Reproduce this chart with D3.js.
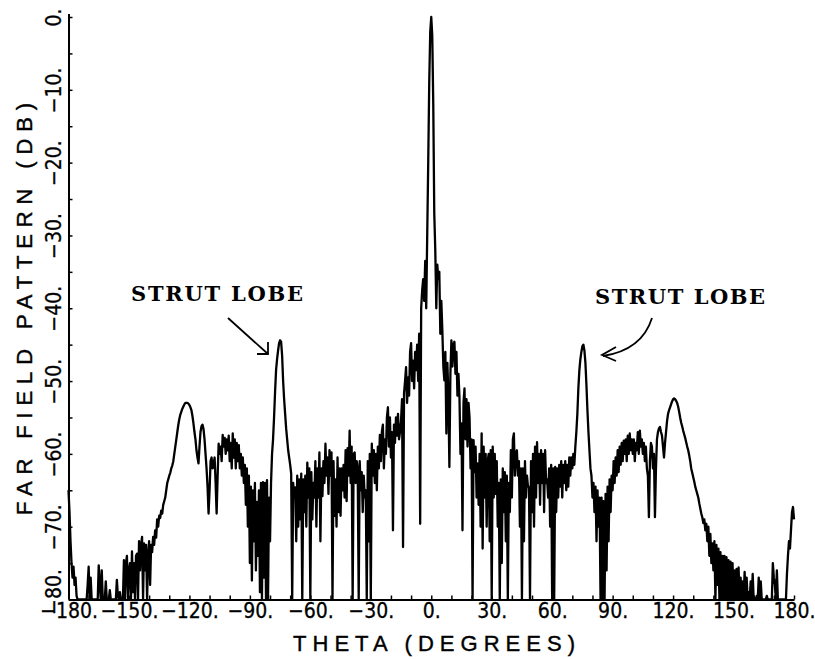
<!DOCTYPE html>
<html>
<head>
<meta charset="utf-8">
<script src="https://cdn.jsdelivr.net/npm/d3@7"></script>
<style>
  body { margin: 0; background: #fff; }
  svg { display: block; }
  .tick-label { font-family: "Liberation Sans Narrow", "DejaVu Sans Condensed", "Liberation Sans", sans-serif; font-size: 21px; fill: #000; stroke: #000; stroke-width: 0.3px; }
  .axis-title { font-family: "Liberation Sans", "DejaVu Sans", sans-serif; font-size: 22px; fill: #000; stroke: #000; stroke-width: 0.4px; }
  .note { font-family: "DejaVu Serif", "Liberation Serif", serif; font-weight: bold; font-size: 21px; fill: #000; }
</style>
</head>
<body>
<svg id="chart"></svg>
<script>
const thetaStart = -180
const thetaStep = 0.5

const dbM180 = [
  -65, -68, -72, -75, -77, -75.5, -78, -77, -79.5, -80,
  -80, -80, -80, -80, -80, -80, -80, -80, -80, -78,
  -75.5, -80, -77, -80, -80, -80, -80, -80, -80, -80,
  -75.3, -78, -80, -76, -80, -80, -80, -77.5, -80, -80,
  -80, -78.7, -80, -80, -80, -80, -80, -80, -77.3, -79.5,
  -80, -79, -80, -80, -80, -74.6, -80, -75, -74, -80
]
const dbM150 = [
  -76, -75, -80, -73.4, -79, -75, -80, -74, -73.7, -80,
  -72, -76, -72.5, -71.4, -80, -72.3, -76, -72.5, -80, -74,
  -72, -78, -72.5, -73.5, -71.4, -72.5, -70.5, -71.5, -69, -70,
  -68.5, -68.8, -67.8, -68.2, -67, -66.5, -66, -65, -64, -63.5,
  -63, -62.6, -62, -61.6, -61, -60, -59, -58, -57, -56,
  -55.2, -54.6, -54.2, -53.8, -53.5, -53.2, -53, -53, -53, -53.1
]
const dbM120 = [
  -53.3, -53.6, -54, -54.8, -55.8, -57, -58, -59.5, -60.5, -61.3,
  -59, -57, -56.2, -56, -56.6, -58, -60, -62, -64.5, -68.2,
  -65, -61, -60.5, -62, -61.5, -60.5, -64, -68.2, -63, -58.6,
  -60, -59, -61, -57.4, -59, -57.8, -60, -58, -59.5, -57.5,
  -61, -58.5, -62, -57.2, -60.5, -58, -62, -58.5, -61, -58.8,
  -62, -60, -63, -60.5, -64, -61.5, -67, -62, -70, -63
]
const dbM90 = [
  -75, -64.5, -77.4, -65, -72, -64, -76, -66.6, -74, -65,
  -79, -64, -80, -63.9, -77, -64, -80, -63.6, -80, -66,
  -72, -64, -60, -58, -55, -51.5, -48.5, -47, -45.8, -44.8,
  -44.4, -44.6, -46.5, -50, -52.5, -54.5, -56.5, -58, -59.5, -60.5,
  -61.5, -62.7, -80, -64, -66, -64.6, -72, -63, -70, -63.5,
  -69, -62.7, -80, -63.5, -68, -63, -70, -61.2, -66, -62
]
const dbM60 = [
  -80, -62.5, -69, -64, -66, -61, -70, -62, -66, -59.8,
  -72, -62, -65.8, -61, -64, -58.6, -63, -60.5, -65.5, -59.5,
  -63, -59.8, -80, -61, -68.5, -63.5, -70, -60.5, -68, -62,
  -68.5, -62, -65, -61.5, -66, -59.5, -66.5, -59.2, -63, -56.8,
  -64, -59, -80, -60, -59.8, -64, -61, -62, -80, -61,
  -65, -62.5, -68, -63, -66, -65, -80, -61, -72, -60
]
const dbM30 = [
  -80, -58.6, -63, -59.5, -64, -60, -65, -59, -62, -57.4,
  -61, -57, -56, -62, -58, -60, -55, -53.6, -59, -55,
  -60.5, -57, -70.5, -56, -58.5, -55, -57.5, -54.5, -58, -57,
  -55.5, -52.5, -72.8, -51.7, -50, -48.1, -53, -49.5, -52, -46,
  -44.8, -50, -47.2, -51, -46, -48.5, -45, -50, -43.5, -69.6,
  -40, -37.5, -36, -39, -33.5, -40, -30, -20, -9, -2
]
const db0 = [
  0, -2.5, -12, -27, -32, -40, -34, -36, -35, -43.5,
  -39, -43, -48, -49.9, -46, -57.2, -47.5, -52, -61.8, -49,
  -44.4, -48, -45, -44.6, -49, -46, -52, -49, -52.2, -60,
  -55.8, -70.5, -53, -51, -58, -52.5, -59, -53, -55, -62,
  -58, -80, -58.1, -62.5, -59, -66, -61.3, -67, -60, -70,
  -57.2, -73, -59, -66, -60, -70, -61, -60, -72, -59.5
]
const db30 = [
  -80, -59, -66, -60, -65.5, -61, -70, -64, -80, -63.5,
  -75, -62, -68, -62.5, -72, -63, -80, -64, -68, -59.5,
  -66, -58, -57.2, -63, -60, -59.5, -63, -61, -70, -62,
  -80, -62, -72, -61, -66, -63, -64.5, -64.5, -80, -61,
  -68, -60, -70, -59, -66, -58.4, -64, -60, -67, -59.5,
  -64, -60, -68, -59.5, -64, -63.5, -66, -62, -70, -61.5
]
const db60 = [
  -80, -62, -80, -61.8, -68, -62, -66, -61.5, -64.5, -61,
  -66, -61.5, -64, -61, -65, -61.5, -64.5, -60.5, -63, -60.5,
  -62, -60, -61.5, -59, -57, -54.5, -51, -48.5, -47, -46,
  -45.2, -45, -45.8, -47.5, -50.5, -54, -57, -59.5, -62, -63,
  -66, -64, -68, -64.5, -72, -65, -70, -66, -80, -66,
  -80, -66.5, -80, -65.5, -76, -64.5, -72, -63.5, -68, -63
]
const db90 = [
  -65, -61, -64, -60.5, -63, -59.5, -62.5, -59, -61.5, -58.5,
  -61, -58.2, -60, -58, -61, -57.5, -60, -57.2, -59.5, -58,
  -60, -58, -61, -58.5, -59.5, -57, -60, -56.8, -59, -58,
  -60, -58.5, -61, -59, -62, -63, -68.7, -61, -58.5, -59,
  -62, -60, -68.7, -62, -58, -57, -56.5, -56.3, -57, -57.5,
  -59, -60.5, -58.5, -57, -55.5, -54.5, -54, -53.6, -53.2, -52.8
]
const db120 = [
  -52.5, -52.4, -52.5, -52.7, -53, -53.5, -54.2, -55, -55.7, -56.2,
  -56.8, -57.3, -57.8, -58.4, -59, -59.5, -60.2, -61, -62, -62.6,
  -63.2, -63.8, -64.5, -65, -65.5, -66, -66.8, -67.5, -68.2, -68.7,
  -69.5, -69, -70.5, -69.6, -72, -70, -74, -71, -75, -72.3,
  -76, -72, -80, -72.5, -78, -73, -80, -73.5, -80, -74,
  -80, -74, -80, -74.2, -80, -74.6, -80, -74.8, -80, -75
]
const db150 = [
  -80, -76, -80, -75.8, -80, -75.6, -80, -77, -80, -77.5,
  -80, -76.2, -80, -77, -80, -79, -80, -77.5, -80, -76.5,
  -80, -80, -80, -79.5, -80, -77, -80, -77.5, -80, -80,
  -80, -80, -80, -79.5, -80, -80, -80, -80, -80, -75,
  -77, -78, -80, -76, -80, -80, -80, -80, -80, -80,
  -80, -80, -80, -76.5, -74, -72, -73, -70.5, -68, -67.3,
  -69
]

const xTicks = [-180, -150, -120, -90, -60, -30, 0, 30, 60, 90, 120, 150, 180]
const yTicks = [0, -10, -20, -30, -40, -50, -60, -70, -80]

const width = 815
const height = 659

const svg = d3.select('#chart')
  .attr('width', width)
  .attr('height', height)

const x = d3.scaleLinear().domain([-180, 180]).range([68.5, 794])
const y = d3.scaleLinear().domain([-80, 0]).range([599.5, 17])

const allDb = [].concat(dbM180, dbM150, dbM120, dbM90, dbM60, dbM30,
  db0, db30, db60, db90, db120, db150)
const points = allDb.map((v, i) => ({ t: thetaStart + i * thetaStep, v: Math.max(v, -80) }))

function fmt (d) {
  return (d < 0 ? '\u2212' + Math.abs(d) : d) + '.'
}

// x axis: small ticks every 10 deg, labels every 30
const xAxis = svg.append('g')
  .attr('transform', 'translate(0,' + y(-80) + ')')
  .call(d3.axisBottom(x)
    .tickValues(d3.range(-180, 181, 10))
    .tickSizeInner(-4)
    .tickSizeOuter(0)
    .tickFormat(d => xTicks.includes(d) ? fmt(d) : ''))
xAxis.select('.domain').attr('stroke', '#000').attr('stroke-width', 2)
xAxis.selectAll('.tick line').attr('stroke', '#000').attr('stroke-width', 1.5)
xAxis.selectAll('.tick text')
  .attr('class', 'tick-label')
  .attr('y', 18)
  .attr('dy', 0)
  .attr('font-family', null)
  .attr('font-size', null)

// y axis: ticks every 5 dB, rotated labels every 10
const yAxis = svg.append('g')
  .attr('transform', 'translate(' + x(-180) + ',0)')
  .call(d3.axisLeft(y)
    .tickValues(d3.range(-80, 1, 5))
    .tickSizeInner(-4)
    .tickSizeOuter(0)
    .tickFormat(d => yTicks.includes(d) ? fmt(d) : ''))
yAxis.select('.domain').attr('stroke', '#000').attr('stroke-width', 2)
  .attr('d', 'M0.5,' + (y(0) - 3) + 'V' + y(-80))
yAxis.selectAll('.tick line').attr('stroke', '#000').attr('stroke-width', 1.5)
yAxis.selectAll('.tick text')
  .attr('class', 'tick-label')
  .attr('transform', 'rotate(-90)')
  .attr('x', d => d === -80 ? 8 : 0)
  .attr('y', -8)
  .attr('dy', 0)
  .attr('text-anchor', 'middle')
  .attr('font-family', null)
  .attr('font-size', null)

// pattern curve
svg.append('path')
  .datum(points)
  .attr('fill', 'none')
  .attr('stroke', '#000')
  .attr('stroke-width', 2.3)
  .attr('stroke-linejoin', 'round')
  .attr('d', d3.line().x(d => x(d.t)).y(d => y(d.v)))

// axis titles
svg.append('text')
  .attr('class', 'axis-title')
  .attr('x', 293)
  .attr('y', 651)
  .attr('textLength', 282)
  .attr('lengthAdjust', 'spacing')
  .text('THETA (DEGREES)')

svg.append('text')
  .attr('class', 'axis-title')
  .attr('transform', 'translate(32,' + 515 + ') rotate(-90)')
  .attr('textLength', 412)
  .attr('lengthAdjust', 'spacing')
  .text('FAR FIELD PATTERN (DB)')

// strut lobe annotations
svg.append('text')
  .attr('class', 'note')
  .attr('x', 131)
  .attr('y', 301)
  .attr('textLength', 172)
  .attr('lengthAdjust', 'spacing')
  .text('STRUT LOBE')

svg.append('text')
  .attr('class', 'note')
  .attr('x', 595)
  .attr('y', 304)
  .attr('textLength', 170)
  .attr('lengthAdjust', 'spacing')
  .text('STRUT LOBE')

const arrows = svg.append('g')
  .attr('fill', 'none')
  .attr('stroke', '#000')
  .attr('stroke-width', 1.8)

arrows.append('path').attr('d', 'M228,318 L268,354')
arrows.append('path').attr('d', 'M257,354 L268,354 L268,342')
arrows.append('path').attr('d', 'M652,318 Q642,350 603,356')
arrows.append('path').attr('d', 'M616,347 L602,355 L616,361')
</script>
</body>
</html>
